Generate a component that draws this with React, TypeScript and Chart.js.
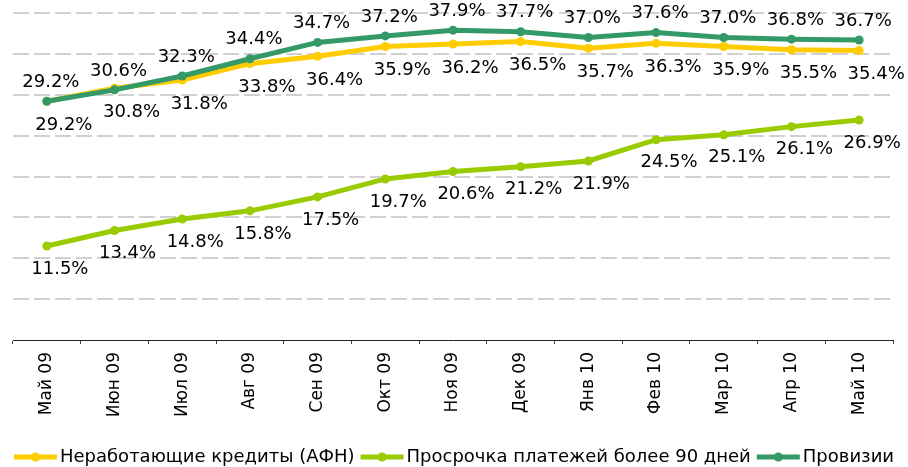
import React, { useEffect, useRef } from 'react';
import { Chart, registerables } from 'chart.js';

Chart.register(...registerables);

const months = ['Май 09', 'Июн 09', 'Июл 09', 'Авг 09', 'Сен 09', 'Окт 09', 'Ноя 09', 'Дек 09', 'Янв 10', 'Фев 10', 'Мар 10', 'Апр 10', 'Май 10'];

// Plotted values (read from point positions)
const afn = [29.2, 30.8, 31.8, 33.8, 34.7, 35.9, 36.2, 36.5, 35.7, 36.3, 35.9, 35.5, 35.4];
const overdue90 = [11.5, 13.4, 14.8, 15.8, 17.5, 19.7, 20.6, 21.2, 21.9, 24.5, 25.1, 26.1, 26.9];
const provisions = [29.2, 30.6, 32.3, 34.4, 36.4, 37.2, 37.9, 37.7, 37.0, 37.6, 37.0, 36.8, 36.7];

// Data label texts as printed in the reference (Sep labels are swapped there)
const afnLabelValues = [29.2, 30.8, 31.8, 33.8, 36.4, 35.9, 36.2, 36.5, 35.7, 36.3, 35.9, 35.5, 35.4];
const overdueLabelValues = overdue90;
const provisionsLabelValues = [29.2, 30.6, 32.3, 34.4, 34.7, 37.2, 37.9, 37.7, 37.0, 37.6, 37.0, 36.8, 36.7];

const seriesNames = ['Неработающие кредиты (АФН)', 'Просрочка платежей более 90 дней', 'Провизии'];
const colors = ['#FFCC00', '#99CC00', '#339966'];

const yMin = 0;
const yMax = 40;
const yStep = 5;

const FONT = "'DejaVu Sans'";

const pointLabelsPlugin = {
  id: 'pointLabels',
  afterDatasetsDraw(chart: any) {
    const ctx = chart.ctx;
    ctx.save();
    ctx.font = `18px ${FONT}`;
    ctx.fillStyle = '#000';
    ctx.textAlign = 'center';
    ctx.textBaseline = 'middle';
    chart.data.datasets.forEach((ds: any, di: number) => {
      const meta = chart.getDatasetMeta(di);
      const cfg = ds.labelCfg;
      if (!cfg) return;
      meta.data.forEach((pt: any, i: number) => {
        ctx.fillText(cfg.texts[i].toFixed(1) + '%', pt.x + cfg.dx, pt.y + cfg.dy);
      });
    });
    ctx.restore();
  },
};

const customLegendPlugin = {
  id: 'customLegend',
  afterDraw(chart: any) {
    const ctx = chart.ctx;
    ctx.save();
    ctx.font = `18px ${FONT}`;
    ctx.textBaseline = 'middle';
    ctx.textAlign = 'left';
    const lineLen = 43;
    const gap = 3;
    const itemGap = 6;
    const widths = seriesNames.map((n) => lineLen + gap + ctx.measureText(n).width);
    const total = widths.reduce((a, b) => a + b, 0) + itemGap * (seriesNames.length - 1);
    let x = (chart.width - total) / 2;
    const y = 457;
    seriesNames.forEach((name, i) => {
      ctx.strokeStyle = colors[i];
      ctx.lineWidth = 5;
      ctx.beginPath();
      ctx.moveTo(x, y);
      ctx.lineTo(x + lineLen, y);
      ctx.stroke();
      ctx.fillStyle = colors[i];
      ctx.beginPath();
      ctx.arc(x + lineLen / 2, y, 4.5, 0, Math.PI * 2);
      ctx.fill();
      ctx.fillStyle = '#000';
      ctx.fillText(name, x + lineLen + gap, y);
      x += widths[i] + itemGap;
    });
    ctx.restore();
  },
};

export default function App() {
  const canvasRef = useRef<HTMLCanvasElement | null>(null);

  useEffect(() => {
    document.body.style.margin = '0';
    const canvas = canvasRef.current;
    if (!canvas) return;
    const mk = (i: number, data: number[], labelTexts: number[], dx: number, dy: number, order: number) => ({
      label: seriesNames[i],
      data,
      borderColor: colors[i],
      backgroundColor: colors[i],
      borderWidth: 5,
      pointRadius: 4.5,
      pointBorderWidth: 0,
      pointBackgroundColor: colors[i],
      tension: 0,
      order,
      labelCfg: { texts: labelTexts, dx, dy },
    });
    const chart = new Chart(canvas, {
      type: 'line',
      data: {
        labels: months,
        datasets: [
          mk(0, afn, afnLabelValues, 17, 24, 2),
          mk(1, overdue90, overdueLabelValues, 13, 23, 1),
          mk(2, provisions, provisionsLabelValues, 4, -19, 0),
        ] as any,
      },
      options: {
        responsive: false,
        animation: false,
        layout: { padding: { left: 13, right: 15, top: 13, bottom: 47 } },
        plugins: {
          legend: { display: false },
          tooltip: { enabled: false },
        },
        scales: {
          x: {
            offset: true,
            grid: {
              display: true,
              drawOnChartArea: false,
              drawTicks: true,
              tickLength: 4,
              color: '#404040',
              offset: true,
            },
            border: { display: true, color: '#262626', width: 1 },
            ticks: {
              minRotation: 90,
              maxRotation: 90,
              autoSkip: false,
              padding: 8,
              color: '#000',
              font: { family: FONT, size: 17 },
            },
            afterFit: (scale: any) => {
              scale.height = 80;
            },
          },
          y: {
            min: yMin,
            max: yMax,
            ticks: { display: false, stepSize: yStep },
            grid: {
              drawTicks: false,
              color: (c: any) => (c.tick && c.tick.value === yMin ? 'rgba(0,0,0,0)' : '#d0d0d0'),
              lineWidth: 2,
            },
            border: { display: false, dash: [16, 5] },
            afterFit: (scale: any) => {
              scale.width = 0;
            },
          },
        },
      },
      plugins: [pointLabelsPlugin, customLegendPlugin],
    } as any);
    return () => chart.destroy();
  }, []);

  return (
    <div style={{ width: 908, height: 467 }}>
      <canvas ref={canvasRef} width={908} height={467} style={{ display: 'block' }} />
    </div>
  );
}
